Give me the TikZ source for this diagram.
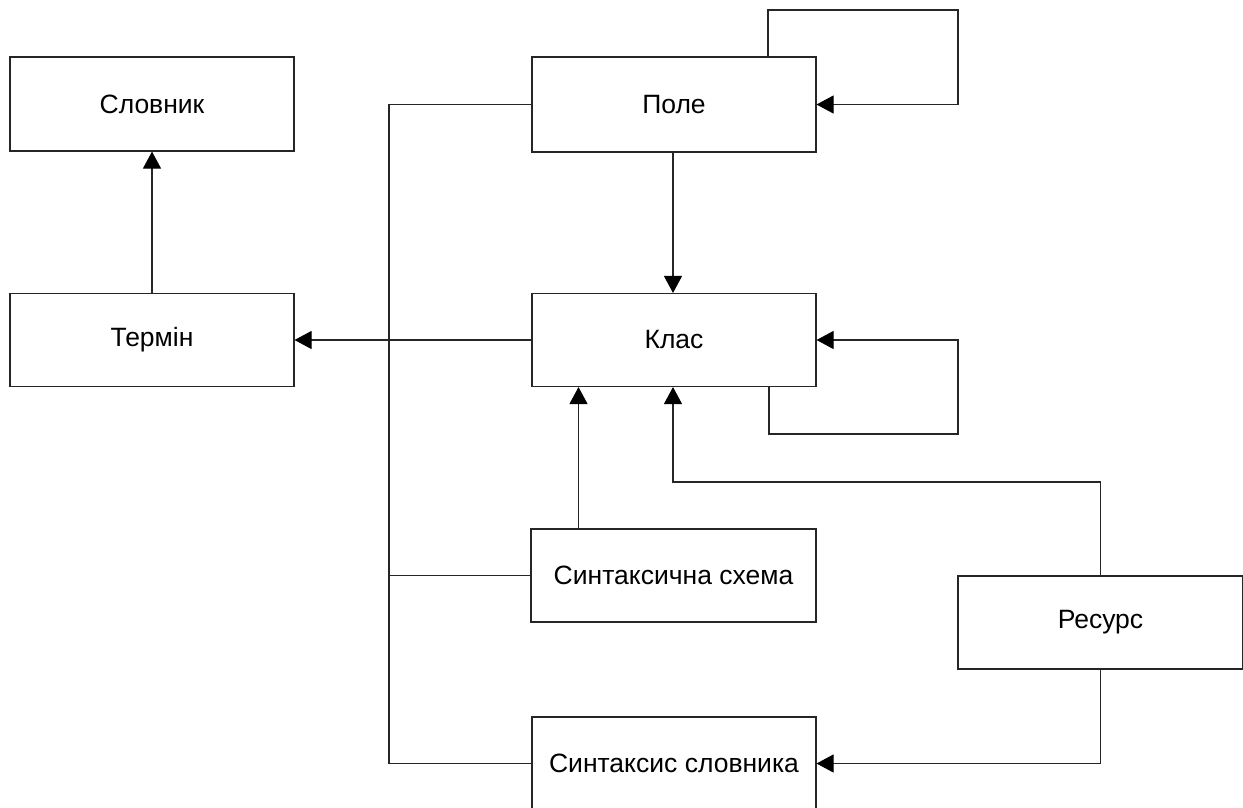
\documentclass[tikz,border=0pt]{standalone}
\usepackage{fontspec}
\setmainfont{Liberation Sans}
\usetikzlibrary{arrows.meta}
\begin{document}
\begin{tikzpicture}[x=1pt,y=-1pt,
  box/.style={draw=black!85, line width=1.1pt, rectangle, inner sep=0pt,
    minimum width=284pt, minimum height=93pt,
    font=\fontsize{26.5}{30}\selectfont},
  link/.style={draw=black!85, line width=1.1pt},
  arr/.style={link, -{Triangle[width=18pt,length=17pt,color=black]}}]
\useasboundingbox (0,0) rectangle (1243,807);

% entities
\node[box, minimum height=94pt] (slov) at (152,104) {Словник};
\node[box] (term) at (152,340) {Термін};
\node[box, minimum height=95pt] (pole) at (674,104.5) {Поле};
\node[box] (klas) at (674,340) {Клас};
\node[box, minimum width=285pt] (schema) at (673.5,575.5) {Синтаксична схема};
\node[box, minimum width=285pt] (resurs) at (1100.5,622.5) {Ресурс};
\node[box] (sintslov) at (674,763.5) {Синтаксис словника};

% routing points
\coordinate (bus) at (389,0);
\coordinate (poleloop) at (958,10);
\coordinate (klasloop) at (958,434);
\coordinate (reskink) at (673,482);

% links
\draw[arr] (term.north) -- (slov.south);
\draw[arr] (pole.south -| reskink) -- (klas.north -| reskink);
\draw[arr] (klas.west) -- (term.east);
\draw[arr] ([xshift=94pt]pole.north) |- (poleloop) |- (pole.east);
\draw[arr] ([xshift=95pt]klas.south) |- (klasloop) |- (klas.east);
\draw[arr] ([xshift=-95pt]schema.north) -- ([xshift=-95pt]schema.north |- klas.south);
\draw[arr] (resurs.north) |- (reskink) -- (reskink |- klas.south);
\draw[arr] (resurs.south) |- (sintslov.east);

% shared line on the left
\draw[link] (pole.west) -- (pole.west -| bus) -- (sintslov.west -| bus) -- (sintslov.west);
\draw[link] (schema.west) -- (schema.west -| bus);
\end{tikzpicture}
\end{document}
